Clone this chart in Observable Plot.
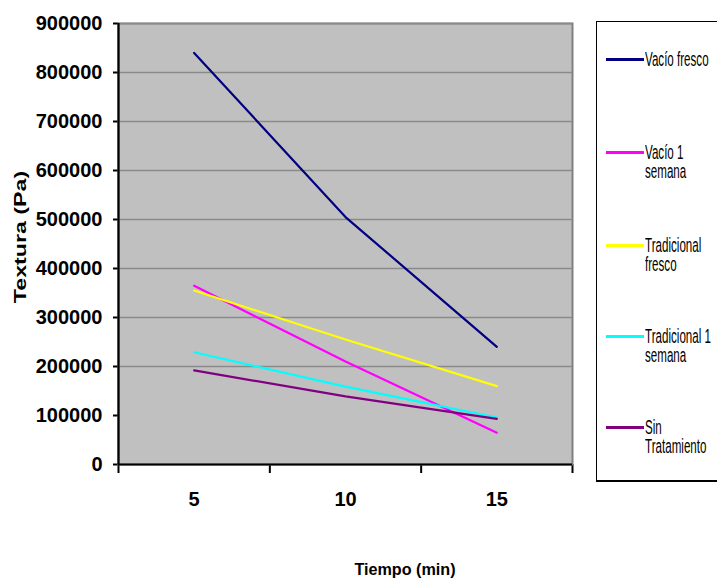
<!DOCTYPE html>
<html>
<head>
<meta charset="utf-8">
<script src="https://cdn.jsdelivr.net/npm/d3@7"></script>
<script src="https://cdn.jsdelivr.net/npm/@observablehq/plot@0.6"></script>
<style>
  html, body { margin: 0; padding: 0; background: #fff; }
  #wrap { position: relative; width: 717px; height: 584px; overflow: hidden; }
  #chart svg { display: block; }
  #chart g[aria-label$="tick"] path, #chart .tick line { stroke-width: 2px; stroke: #000; }
  .ytitle, .xtitle { position: absolute; font-family: "Liberation Sans", Arial, sans-serif; font-weight: bold; color: #000; white-space: nowrap; }
  .ytitle { font-size: 16px; left: 21px; top: 237px; transform: translate(-50%, -50%) rotate(-90deg) scaleX(1.45); }
  .xtitle { font-size: 17px; left: 405px; top: 570px; transform: translate(-50%, -50%) scaleX(0.95); }
  #legend { position: absolute; left: 596px; top: 21px; width: 140px; height: 458px; border: 1px solid #000; border-bottom-width: 2px; background: #fff; }
  .item { position: absolute; left: 9px; }
  .sw { position: absolute; left: 0; width: 38px; height: 2.5px; }
  .lt { position: absolute; left: 39px; font-family: "Liberation Sans", Arial, sans-serif; font-size: 14.5px; line-height: 14.3px; white-space: pre; transform-origin: top left; transform: scale(0.8, 1.4); color: #000; }
</style>
</head>
<body>
<div id="wrap">
  <div id="chart"></div>
  <div class="ytitle">Textura (Pa)</div>
  <div class="xtitle">Tiempo (min)</div>
  <div id="legend"></div>
</div>
<script>
// ---- data ----
const categories = ["5", "10", "15"];
const times = [5, 10, 15];
const seriesNames = ["Vacío fresco", "Vacío 1 semana", "Tradicional fresco", "Tradicional 1 semana", "Sin Tratamiento"];
const legendLabels = ["Vacío fresco", "Vacío 1\nsemana", "Tradicional\nfresco", "Tradicional 1\nsemana", "Sin\nTratamiento"];
const vacioFresco = [840000, 505000, 240000];
const vacio1Semana = [365000, 210000, 65000];
const tradicionalFresco = [355000, 255000, 160000];
const tradicional1Semana = [229000, 159000, 96000];
const sinTratamiento = [192000, 139000, 93000];
const yTicks = [0, 100000, 200000, 300000, 400000, 500000, 600000, 700000, 800000, 900000];
const gridTicks = [200000, 300000, 400000, 500000, 600000, 700000, 800000, 900000];
const colors = ["#000080", "#ff00ff", "#ffff00", "#00ffff", "#800080"];

// ---- build table ----
const allSeries = [vacioFresco, vacio1Semana, tradicionalFresco, tradicional1Semana, sinTratamiento];
const table = [];
allSeries.forEach((vals, s) => {
  vals.forEach((v, i) => table.push({series: seriesNames[s], time: times[i], value: v}));
});
const step = times[1] - times[0];
const boundaries = [times[0] - step / 2, ...times.map(t => t + step / 2)];
const catLabels = times.map((t, i) => ({time: t, label: categories[i]}));

const W = 717, H = 584, mL = 118, mR = 145, mT = 23, mB = 120;

const chart = Plot.plot({
  width: W,
  height: H,
  marginLeft: mL,
  marginRight: mR,
  marginTop: mT,
  marginBottom: mB,
  style: {fontFamily: "'Liberation Sans', Arial, sans-serif", fontSize: "20px", fontWeight: "bold", background: "transparent", color: "#000"},
  x: {domain: [boundaries[0], boundaries[boundaries.length - 1]], ticks: boundaries, tickFormat: () => "", tickSize: 9, label: null},
  y: {domain: [0, 900000], ticks: yTicks, tickFormat: d => String(d), tickSize: 5, tickPadding: 11, label: null},
  color: {domain: seriesNames, range: colors},
  marks: [
    Plot.frame({fill: "#c0c0c0", stroke: "#808080", strokeWidth: 2}),
    Plot.ruleY(gridTicks, {stroke: "#8a8a8a", strokeWidth: 1.3}),
    Plot.line(table, {x: "time", y: "value", z: "series", stroke: "series", strokeWidth: 2.2}),
    Plot.ruleY([0], {stroke: "#000", strokeWidth: 2.2}),
    Plot.ruleX([boundaries[0]], {stroke: "#000", strokeWidth: 2.2}),
    Plot.text(catLabels, {x: "time", text: "label", frameAnchor: "bottom", dy: 41, fontSize: 20, fontWeight: "bold", fill: "#000"})
  ]
});
document.getElementById("chart").appendChild(chart);

// ---- legend ----
const legend = document.getElementById("legend");
const lineYs = [37, 130, 223, 314, 405]; // relative to legend box top
seriesNames.forEach((name, i) => {
  const item = document.createElement("div");
  item.className = "item";
  item.style.top = (lineYs[i] - 10) + "px";
  const sw = document.createElement("div");
  sw.className = "sw";
  sw.style.background = colors[i];
  sw.style.top = "9px";
  const lt = document.createElement("div");
  lt.className = "lt";
  lt.style.top = "0px";
  lt.textContent = legendLabels[i];
  item.appendChild(sw);
  item.appendChild(lt);
  legend.appendChild(item);
});
</script>
</body>
</html>
